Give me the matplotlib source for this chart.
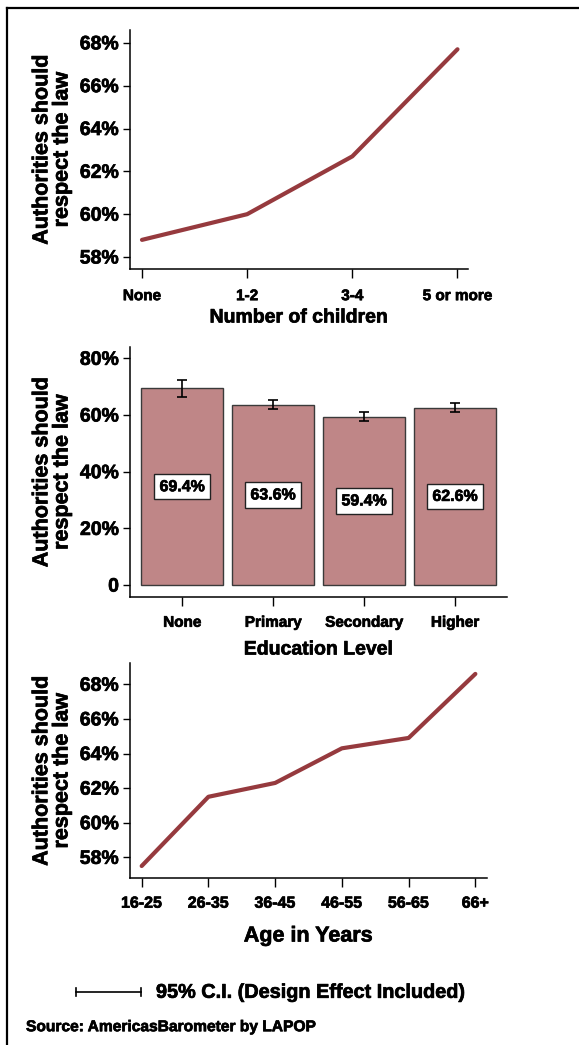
import matplotlib
matplotlib.use("Agg")
import matplotlib.pyplot as plt
from matplotlib.lines import Line2D
from matplotlib.text import Text
from matplotlib import ticker, patheffects

plt.rcParams["font.family"] = ["Liberation Sans", "DejaVu Sans"]
plt.rcParams["font.weight"] = "bold"

# number of children
children = ["None", "1-2", "3-4", "5 or more"]
children_pct = [58.8, 60.0, 62.7, 67.7]

# education level
education = ["None", "Primary", "Secondary", "Higher"]
education_pct = [69.4, 63.6, 59.4, 62.6]
education_ci = [3.0, 1.6, 1.6, 1.6]

# age groups
ages = ["16-25", "26-35", "36-45", "46-55", "56-65", "66+"]
ages_pct = [57.5, 61.5, 62.3, 64.3, 64.9, 68.6]

LINE = "#963a3e"
BAR = "#bf8687"
YLABEL = "Authorities should\nrespect the law"

W, H = 579, 1045
fig = plt.figure(figsize=(W / 100, H / 100), dpi=100)


def px_axes(left, top, right, bottom):
    return fig.add_axes([left / W, 1 - bottom / H, (right - left) / W, (bottom - top) / H])


def style(ax, xfs, ylab_x, xlab_y, xlab, xlab_fs, xpad):
    for s in ("top", "right"):
        ax.spines[s].set_visible(False)
    for s in ("left", "bottom"):
        ax.spines[s].set_linewidth(1.1)
    ax.tick_params(axis="y", length=5, width=1, pad=3, labelsize=14)
    ax.tick_params(axis="x", length=6.5, width=1, pad=xpad, labelsize=xfs)
    ax.set_ylabel(YLABEL, fontsize=15.5, fontweight="bold", linespacing=0.95)
    ax.yaxis.set_label_coords(ylab_x, 0.5)
    ax.yaxis.label.set_va("center")
    ax.set_xlabel(xlab, fontsize=xlab_fs, fontweight="bold")
    ax.xaxis.set_label_coords(0.5, xlab_y)
    ax.xaxis.label.set_va("center")


pct = ticker.FuncFormatter(lambda v, _: "0" if v == 0 else f"{v:.0f}%")

# panel 1: children
ax1 = px_axes(130, 30, 468, 269)
ax1.plot(range(len(children)), children_pct, color=LINE, lw=3, solid_capstyle="round")
ax1.set_xticks(range(len(children)), children)
ax1.set_xlim(-0.114, 3.1)
ax1.set_ylim(57.44, 68.6)
ax1.set_yticks([58, 60, 62, 64, 66, 68])
ax1.yaxis.set_major_formatter(pct)
style(ax1, 11, -0.231, -0.205, "Number of children", 14, 8)

# panel 2: education bars
ax2 = px_axes(130, 347, 507, 597)
xs = range(len(education))
ax2.bar(xs, education_pct, width=0.9, color=BAR, edgecolor="#3a3a3a", linewidth=1)
ax2.errorbar(xs, education_pct, yerr=education_ci, fmt="none", ecolor="black",
             elinewidth=1.2, capsize=3.6, capthick=1.2)
for x, v in zip(xs, education_pct):
    ax2.text(x, v / 2, f"{v:.1f}%", ha="center", va="center", fontsize=11.5,
             fontweight="bold",
             bbox=dict(boxstyle="square,pad=0.32", fc="white", ec="#222222", lw=1))
ax2.set_xticks(list(xs), education)
ax2.set_xlim(-0.575, 3.57)
ax2.set_ylim(-4.2, 84)
ax2.set_yticks([0, 20, 40, 60, 80])
ax2.yaxis.set_major_formatter(pct)
style(ax2, 11, -0.207, -0.212, "Education Level", 14, 7)

# panel 3: age
ax3 = px_axes(130, 663, 486.7, 878.3)
ax3.plot(range(len(ages)), ages_pct, color=LINE, lw=3, solid_capstyle="round")
ax3.set_xticks(range(len(ages)), ages)
ax3.set_xlim(-0.175, 5.17)
ax3.set_ylim(56.79, 69.23)
ax3.set_yticks([58, 60, 62, 64, 66, 68])
ax3.yaxis.set_major_formatter(pct)
style(ax3, 11.5, -0.219, -0.268, "Age in Years", 15.5, 6)

# confidence-interval key
ky = 1 - 992.3 / H
fig.add_artist(Line2D([76 / W, 140.7 / W], [ky, ky], color="black", lw=1.2))
for kx in (76, 140.7):
    fig.add_artist(Line2D([kx / W, kx / W], [ky - 4 / H, ky + 4 / H], color="black", lw=1.2))
fig.text(156 / W, ky, "95% C.I. (Design Effect Included)", fontsize=14.3,
         fontweight="bold", va="center", ha="left")
fig.text(26 / W, 1 - 1026.7 / H, "Source: AmericasBarometer by LAPOP", fontsize=11.2,
         fontweight="bold", va="center", ha="left")

# frame
fig.add_artist(Line2D([7 / W, 1], [1 - 8 / H, 1 - 8 / H], color="black", lw=1.6))
fig.add_artist(Line2D([7 / W, 7 / W], [0, 1 - 8 / H], color="black", lw=1.6))

# heavier glyphs for every label
for t in fig.findobj(Text):
    t.set_path_effects([patheffects.withStroke(linewidth=0.5, foreground="black")])

fig.savefig("out.png", dpi=100)
